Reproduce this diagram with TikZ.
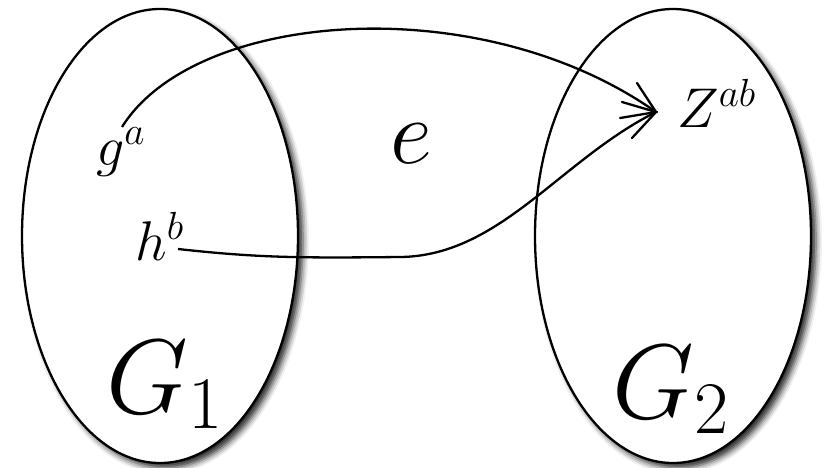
\documentclass[tikz,border=0pt]{standalone}
\usepackage{fix-cm}
\usetikzlibrary{shapes.geometric,shadows.blur}
\begin{document}
\begin{tikzpicture}[x=1pt,y=-1pt,
  setshape/.style={draw=black, line width=2.3pt, fill=white, ellipse, minimum width=276pt, minimum height=454pt, inner sep=0pt,
    blur shadow={shadow xshift=5pt, shadow yshift=-5pt, shadow blur radius=6pt, shadow opacity=85}},
  lbl/.style={inner sep=0pt, anchor=base west, font=\fontsize{56}{66}\selectfont},
  biglbl/.style={inner sep=0pt, anchor=base west, font=\fontsize{106}{120}\selectfont},
  conn/.style={line width=2.3pt},
  barb/.style={line width=2.3pt, line cap=round}]
\useasboundingbox (0,0) rectangle (824,467);
\node[setshape] (G1) at (160,236) {};
\node[setshape] (G2) at (673,236) {};
\node[lbl] (ga) at (96,165) {$g^a$};
\node[lbl] (hb) at (135,260) {$h^b$};
\node[lbl] (Z) at (677,127) {$Z^{ab}$};
\node[inner sep=0pt, anchor=base west, font=\fontsize{92}{100}\selectfont] (e) at (390,163) {$e$};
\node[biglbl] (g1) at (106,413) {$G_1$};
\node[biglbl] (g2) at (612,418) {$G_2$};
\coordinate (gs) at (122,127);
\coordinate (hs) at (178,249);
\coordinate (hm) at (400,257);
\coordinate (zt) at (656,112);
\draw[conn] (gs) .. controls (195,10) and (480,-12) .. (zt);
\draw[conn] (hs) .. controls (260,258) and (300,258) .. (hm) .. controls (500,256) and (560,160) .. (zt);
% open arrowheads of the two connectors at Z
\draw[barb] (zt) ++(-19,-29) -- (zt) -- ++(-36,6);
\draw[barb] (zt) ++(-34,-10) -- (zt) -- ++(-24,26);
\end{tikzpicture}
\end{document}
